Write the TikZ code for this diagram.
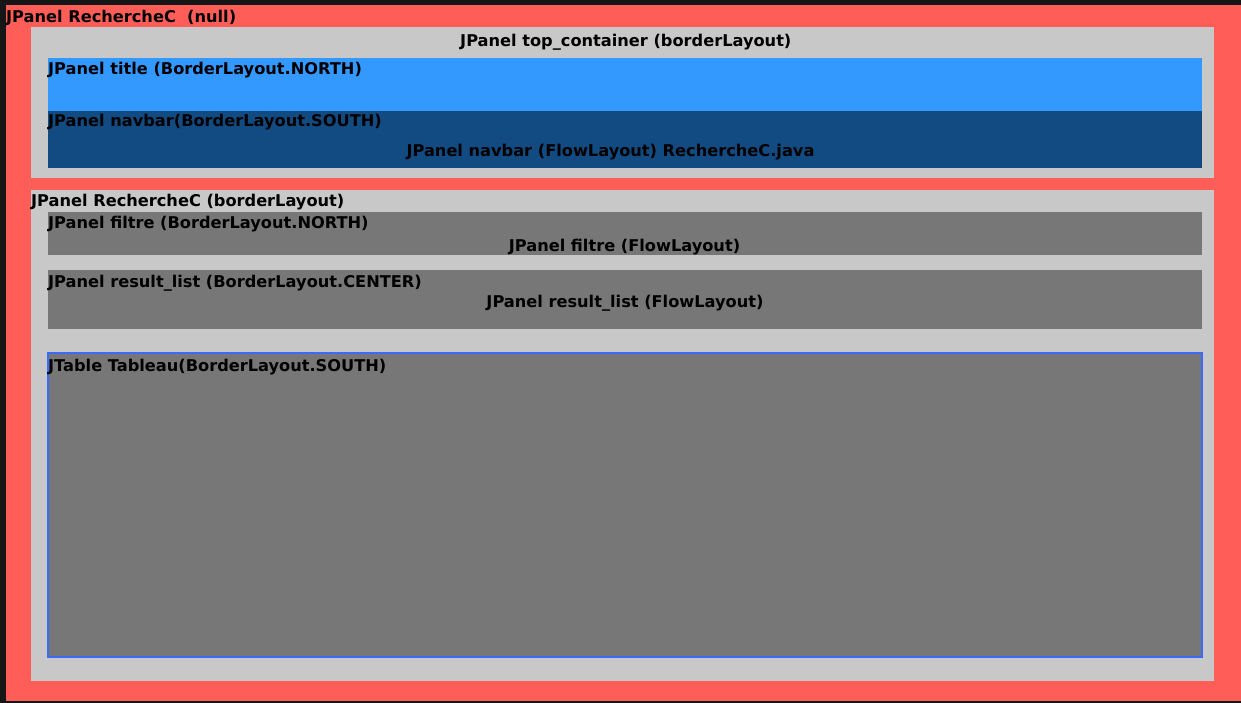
\documentclass[tikz,border=0pt]{standalone}
\usepackage{fontspec}
\setmainfont{DejaVu Sans}
\begin{document}
\definecolor{bgdark}{RGB}{22,22,22}
\definecolor{framered}{RGB}{255,94,88}
\definecolor{panelgray}{RGB}{200,200,200}
\definecolor{titleblue}{RGB}{51,153,255}
\definecolor{navblue}{RGB}{18,74,130}
\definecolor{contentgray}{RGB}{119,119,119}
\definecolor{tableedge}{RGB}{58,106,255}
\begin{tikzpicture}[x=1pt,y=-1pt,
  label/.style={inner sep=0pt,font=\fontsize{16.2}{18}\selectfont\bfseries,text=black},
  lefttext/.style={label,anchor=base west},
  midtext/.style={label,anchor=base}]
  % page background and outer frame
  \fill[bgdark] (0,0) rectangle (1241,703);
  \useasboundingbox (0,0) rectangle (1241,703);
  \fill[framered] (6,5) rectangle (1241,701);

  % top container with title and navbar
  \fill[panelgray] (31,27) rectangle (1214,178);
  \fill[titleblue] (48,58) rectangle (1202,111);
  \fill[navblue] (48,111) rectangle (1202,168);

  % search panel with filter, result list and table
  \fill[panelgray] (31,190) rectangle (1214,681);
  \fill[contentgray] (48,212) rectangle (1202,255);
  \fill[contentgray] (48,270) rectangle (1202,329);
  \filldraw[fill=contentgray,draw=tableedge,line width=2pt] (48,353) rectangle (1202,657);

  % captions
  \node[lefttext] (nroot) at (6,22.5) {JPanel RechercheC\space\space(null)};
  \node[midtext] (ntop) at (625.8,46.5) {JPanel top\_container (borderLayout)};
  \node[lefttext] (ntitle) at (48,75) {JPanel title (BorderLayout.NORTH)};
  \node[lefttext] (nnav) at (48,127) {JPanel navbar(BorderLayout.SOUTH)};
  \node[midtext] (nnavflow) at (610.5,157) {JPanel navbar (FlowLayout) RechercheC.java};
  \node[lefttext] (nsearch) at (31,206.5) {JPanel RechercheC (borderLayout)};
  \node[lefttext] (nfiltre) at (48,229) {JPanel filtre (BorderLayout.NORTH)};
  \node[midtext] (nfiltreflow) at (624.5,251.5) {JPanel filtre (FlowLayout)};
  \node[lefttext] (nresult) at (48,287) {JPanel result\_list (BorderLayout.CENTER)};
  \node[midtext] (nresultflow) at (625,307.5) {JPanel result\_list (FlowLayout)};
  \node[lefttext] (ntable) at (48,371.5) {JTable Tableau(BorderLayout.SOUTH)};
\end{tikzpicture}
\end{document}
